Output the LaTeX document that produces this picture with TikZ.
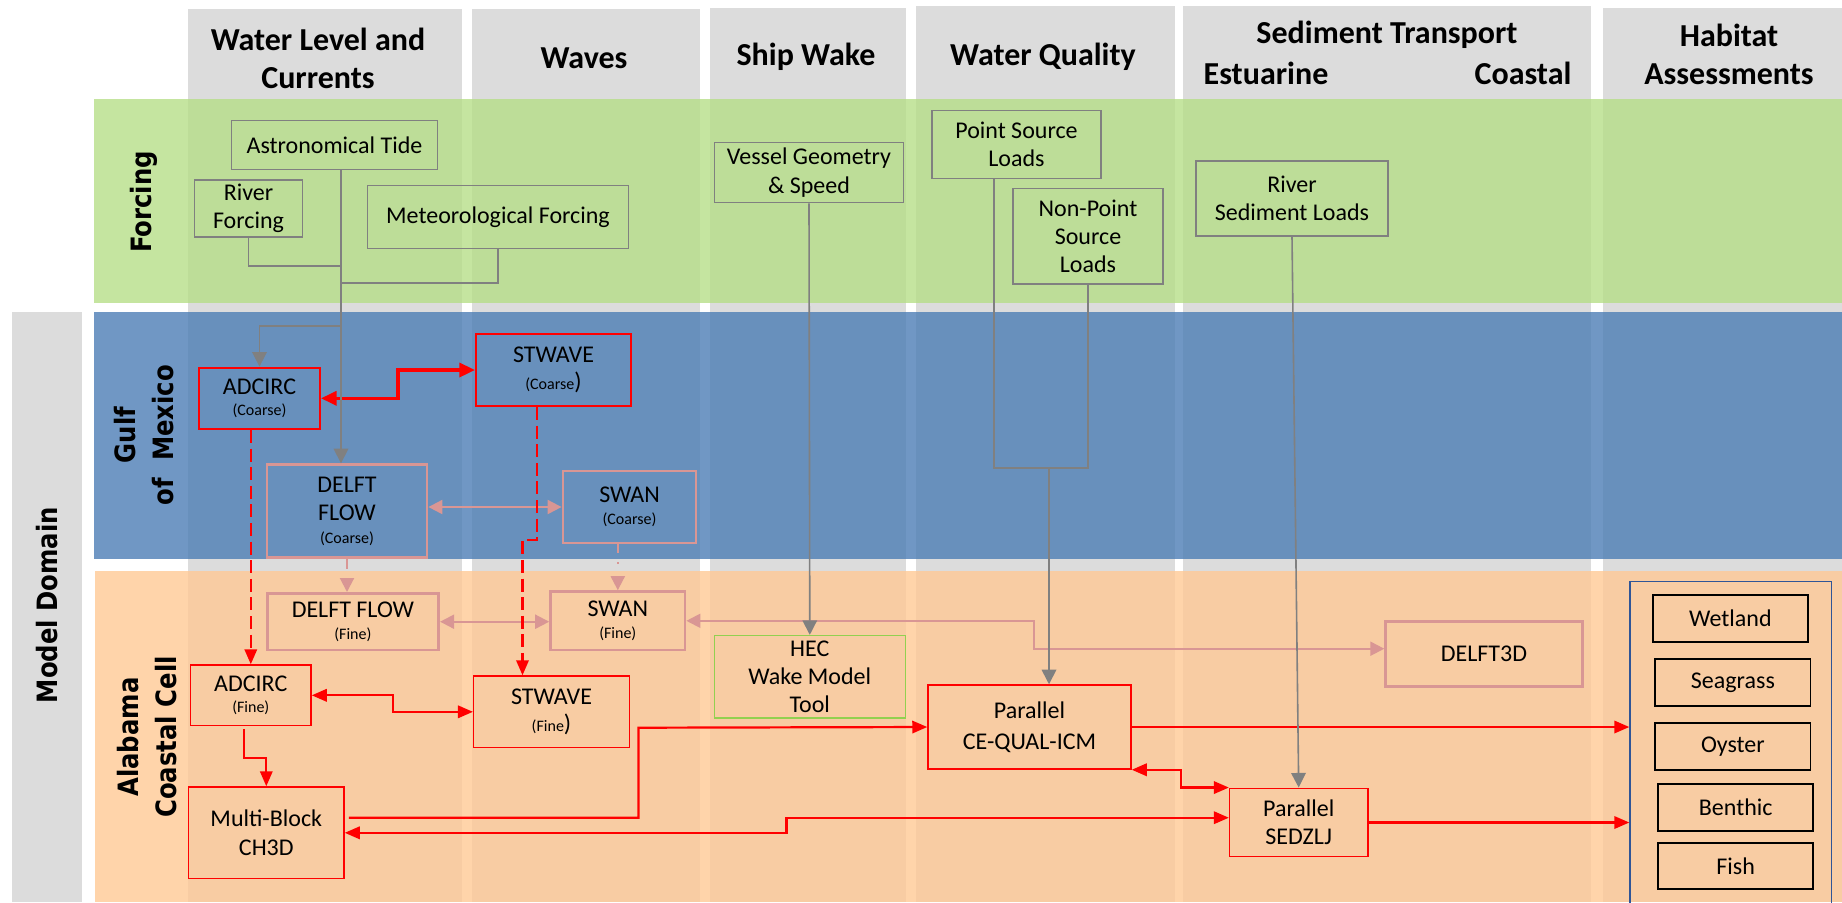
\documentclass[tikz,border=0pt]{standalone}
\usepackage{fontspec}
\setmainfont{Carlito}
\newfontfamily\bandfont[FakeStretch=0.87]{DejaVu Sans}
\usepackage{tikz}
\usetikzlibrary{arrows.meta}

\definecolor{colgray}{RGB}{220,220,220}
\definecolor{forcegreen}{RGB}{182,222,136}
\definecolor{gulfblue}{RGB}{76,125,181}
\definecolor{cellorange}{RGB}{255,201,149}
\definecolor{linegray}{RGB}{128,128,128}
\definecolor{modelred}{RGB}{255,0,0}
\definecolor{modelpink}{RGB}{217,150,148}
\definecolor{hecgreen}{RGB}{146,208,80}
\definecolor{habblue}{RGB}{47,85,151}

\newcommand{\meshtag}[1]{{\fontsize{8}{9}\selectfont(#1)}}
\newcommand{\meshtagwide}[1]{{\fontsize{8}{9}\selectfont(#1\fontsize{12}{14}\selectfont)}}

\begin{document}
\begin{tikzpicture}[x=0.5pt,y=-0.5pt,
  box/.style={inner sep=0pt, align=center, font=\fontsize{12}{14.2}\selectfont},
  forcebox/.style={box, draw=linegray, line width=0.75pt},
  gulfbox/.style={box, draw=modelred, line width=1pt},
  cellbox/.style={box, draw=modelred, line width=0.75pt},
  flowbox/.style={box, draw=modelpink, line width=1.4pt},
  habbox/.style={box, draw=black, line width=0.9pt, minimum width=77.6pt, minimum height=23.3pt},
  head/.style={font=\fontsize{16}{19}\selectfont\bfseries, align=center},
  band/.style={font=\bandfont\bfseries\fontsize{14}{19}\selectfont, align=center, rotate=90},
  feed/.style={draw=linegray, line width=0.8pt, >={Triangle[length=7.3pt,width=7.3pt]}},
  flow/.style={draw=modelpink, line width=1pt, >={Triangle[length=7pt,width=7pt]}},
  link/.style={draw=modelred, line width=1.1pt, >={Triangle[length=7.5pt,width=6.2pt]}},
  gulflink/.style={draw=modelred, line width=1.6pt, >={Triangle[length=7.8pt,width=7pt]}},
  dashlink/.style={link, dash pattern=on 6.5pt off 2.8pt}]

\useasboundingbox (0,0) rectangle (1842,902);
\clip (0,0) rectangle (1842,902);

\fill[colgray] (188,9) rectangle (462,902);
\fill[colgray] (472,9) rectangle (700,902);
\fill[colgray] (710,8) rectangle (906,902);
\fill[colgray] (916,6) rectangle (1175,902);
\fill[colgray] (1183,6) rectangle (1591,902);
\fill[colgray] (1603,8) rectangle (1842,902);
\fill[colgray] (12,312) rectangle (82,902);

\fill[forcegreen, opacity=0.8] (94,99) rectangle (1842,303);
\fill[gulfblue, opacity=0.8] (94,312) rectangle (1842,559);
\fill[cellorange, opacity=0.8] (95,571) rectangle (1842,902);

\node[band] (forcinglbl) at (144,202) {Forcing};
\node[band] (gulflbl) at (144,435) {Gulf\\of~ Mexico};
\node[band] (celllbl) at (147,737) {Alabama\\Coastal Cell};
\node[band] (domainlbl) at (47,605) {Model Domain};

\node[head] (wlhead) at (318,58) {Water Level and\\Currents};
\node[head] (wavehead) at (584,58) {Waves};
\node[head] (shiphead) at (806,57) {Ship Wake};
\node[head] (wqhead) at (1043,57) {Water Quality};
\node[head] (sedhead) at (1387,35) {Sediment Transport};
\node[head] (esthead) at (1266,73) {Estuarine};
\node[head] (coasthead) at (1523,73) {Coastal};
\node[head] (habhead) at (1729,54) {Habitat\\Assessments};

\node[forcebox, minimum width=102.8pt, minimum height=24.3pt] (tide) at (334.5,145) {Astronomical Tide};
\node[forcebox, minimum width=54.2pt, minimum height=28.5pt] (river) at (248.5,208.5) {River\\Forcing};
\node[forcebox, minimum width=130.7pt, minimum height=31.5pt] (meteo) at (498,217.2) {Meteorological Forcing};
\node[forcebox, minimum width=94.3pt, minimum height=30pt] (vessel) at (809,172.7) {Vessel Geometry\\\& Speed};
\node[forcebox, minimum width=84.5pt, minimum height=33.8pt] (pointsrc) at (1016.5,144.5) {Point Source\\Loads};
\node[forcebox, minimum width=75pt, minimum height=47.7pt] (nonpoint) at (1088,236.3) {Non-Point\\Source\\Loads};
\node[forcebox, minimum width=96pt, minimum height=37.5pt] (riversed) at (1292,198.5) {River\\Sediment Loads};

\node[gulfbox, minimum width=60.5pt, minimum height=30.7pt] (adcircC) at (259.5,398.3) {ADCIRC\\[-3.4pt]\meshtag{Coarse}};
\node[gulfbox, minimum width=77.5pt, minimum height=36pt] (stwaveC) at (553.5,370) {STWAVE\\[-0.7pt]\meshtagwide{Coarse}};
\node[flowbox, minimum width=80pt, minimum height=46.5pt] (delftC) at (347,511.2) {DELFT\\FLOW\\[-3pt]\meshtag{Coarse}};
\node[flowbox, minimum width=66.5pt, minimum height=36pt] (swanC) at (629.5,507) {SWAN\\[-3.4pt]\meshtag{Coarse}};

\node[flowbox, minimum width=85.8pt, minimum height=28.3pt] (delftF) at (352.9,621.7) {DELFT FLOW\\[-3.4pt]\meshtag{Fine}};
\node[flowbox, minimum width=67.2pt, minimum height=29.2pt] (swanF) at (617.8,620.8) {SWAN\\[-3.4pt]\meshtag{Fine}};
\node[box, draw=hecgreen, line width=0.75pt, minimum width=95.5pt, minimum height=41.2pt] (hec) at (809.8,676.8) {HEC\\Wake Model\\Tool};
\node[cellbox, minimum width=77.8pt, minimum height=35.8pt] (stwaveF) at (551.5,711.8) {STWAVE\\[-0.7pt]\meshtagwide{Fine}};
\node[cellbox, minimum width=60.2pt, minimum height=30.3pt] (adcircF) at (250.8,695.3) {ADCIRC\\[-3.4pt]\meshtag{Fine}};
\node[cellbox, minimum width=77.7pt, minimum height=45.8pt] (ch3d) at (266.3,832.8) {Multi-Block\\CH3D};
\node[cellbox, minimum width=101.5pt, minimum height=42pt] (cequal) at (1029.5,727) {Parallel\\[1.5pt]CE-QUAL-ICM};
\node[cellbox, minimum width=69.1pt, minimum height=34.2pt] (sedzlj) at (1298.7,822.5) {Parallel\\SEDZLJ};
\node[flowbox, minimum width=98.3pt, minimum height=32.5pt] (delft3d) at (1484,654.2) {DELFT3D};

\node[draw=habblue, line width=0.7pt, minimum width=100.8pt, minimum height=169.3pt, inner sep=0pt] (habitat) at (1730.8,751) {};
\node[habbox] (wetland) at (1730.3,618.3) {Wetland};
\node[habbox] (seagrass) at (1732.9,682.3) {Seagrass};
\node[habbox] (oyster) at (1732.9,746.3) {Oyster};
\node[habbox] (benthic) at (1735.7,807.3) {Benthic};
\node[habbox] (fish) at (1735.7,866) {Fish};

\draw[flow,<->] (swanC.west -| delftC.east) -- (swanC.west);
\draw[flow,->,dash pattern=on 5pt off 6pt] (delftC.south) -- (delftC.south |- delftF.north);
\draw[flow,->,dash pattern=on 4.5pt off 4.5pt on 1pt off 8pt] (swanF.north |- swanC.south) -- (swanF.north);
\draw[flow,<->] (delftF.east) -- (delftF.east -| swanF.west);
\draw[flow,<->] (swanF.east) -- ++(347.6,0) |- ([yshift=2.75pt]delft3d.west);

\coordinate (jogA) at (537,540);
\coordinate (jogB) at (522.5,540);
\coordinate (cellstart) at (243.7,729);
\coordinate (cellstep) at (243.7,758);
\coordinate (qualstep) at (638.5,727.7);
\coordinate (sedstep) at (786.5,817.7);
\draw[gulflink,<->] (adcircC.east) -- ++(77,0) |- (stwaveC.west);
\draw[dashlink,->] (adcircC.south -| adcircF.north) -- (adcircF.north);
\draw[dashlink,->] (stwaveC.south -| jogA) -- (jogA) -- (jogB) -- (jogB |- stwaveF.north);
\draw[link,<->] (adcircF.east) -- ++(81.5,0) |- (stwaveF.west);
\draw[link,->] (cellstart) -- (cellstep) -| (ch3d.north);
\draw[link,->] ([shift={(2pt,7.5pt)}]ch3d.east) -| (qualstep) -- (cequal.west);
\draw[link,<->] (ch3d.east) -| (sedstep) -- (sedstep -| sedzlj.west);
\draw[link,<->] (cequal.south east) -- ++(49,0) |- (sedzlj.north west);
\draw[link,->] (cequal.east) -- (cequal.east -| habitat.west);
\draw[link,->] (sedzlj.east) -- (sedzlj.east -| habitat.west);

\coordinate (trunk) at (341,300);
\coordinate (riverjoin) at (341,266);
\coordinate (metjoin) at (341,283);
\coordinate (gulfsplit) at (341,326);
\coordinate (wqjoin) at (994,468);
\coordinate (wqdrop) at (1049,468);
\draw[feed,->] (tide.south -| trunk) -- (trunk |- delftC.north);
\draw[feed] (river.south) |- (riverjoin);
\draw[feed] (meteo.south) |- (metjoin);
\draw[feed,->] (gulfsplit) -| (adcircC.north);
\draw[feed,->] (vessel.south) -- (hec.north);
\draw[feed] (pointsrc.south -| wqjoin) -- (wqjoin) -| (nonpoint.south);
\draw[feed,->] (wqdrop) -- (wqdrop |- cequal.north);
\draw[feed,->] (riversed.south) -- (sedzlj.north);
\end{tikzpicture}
\end{document}
